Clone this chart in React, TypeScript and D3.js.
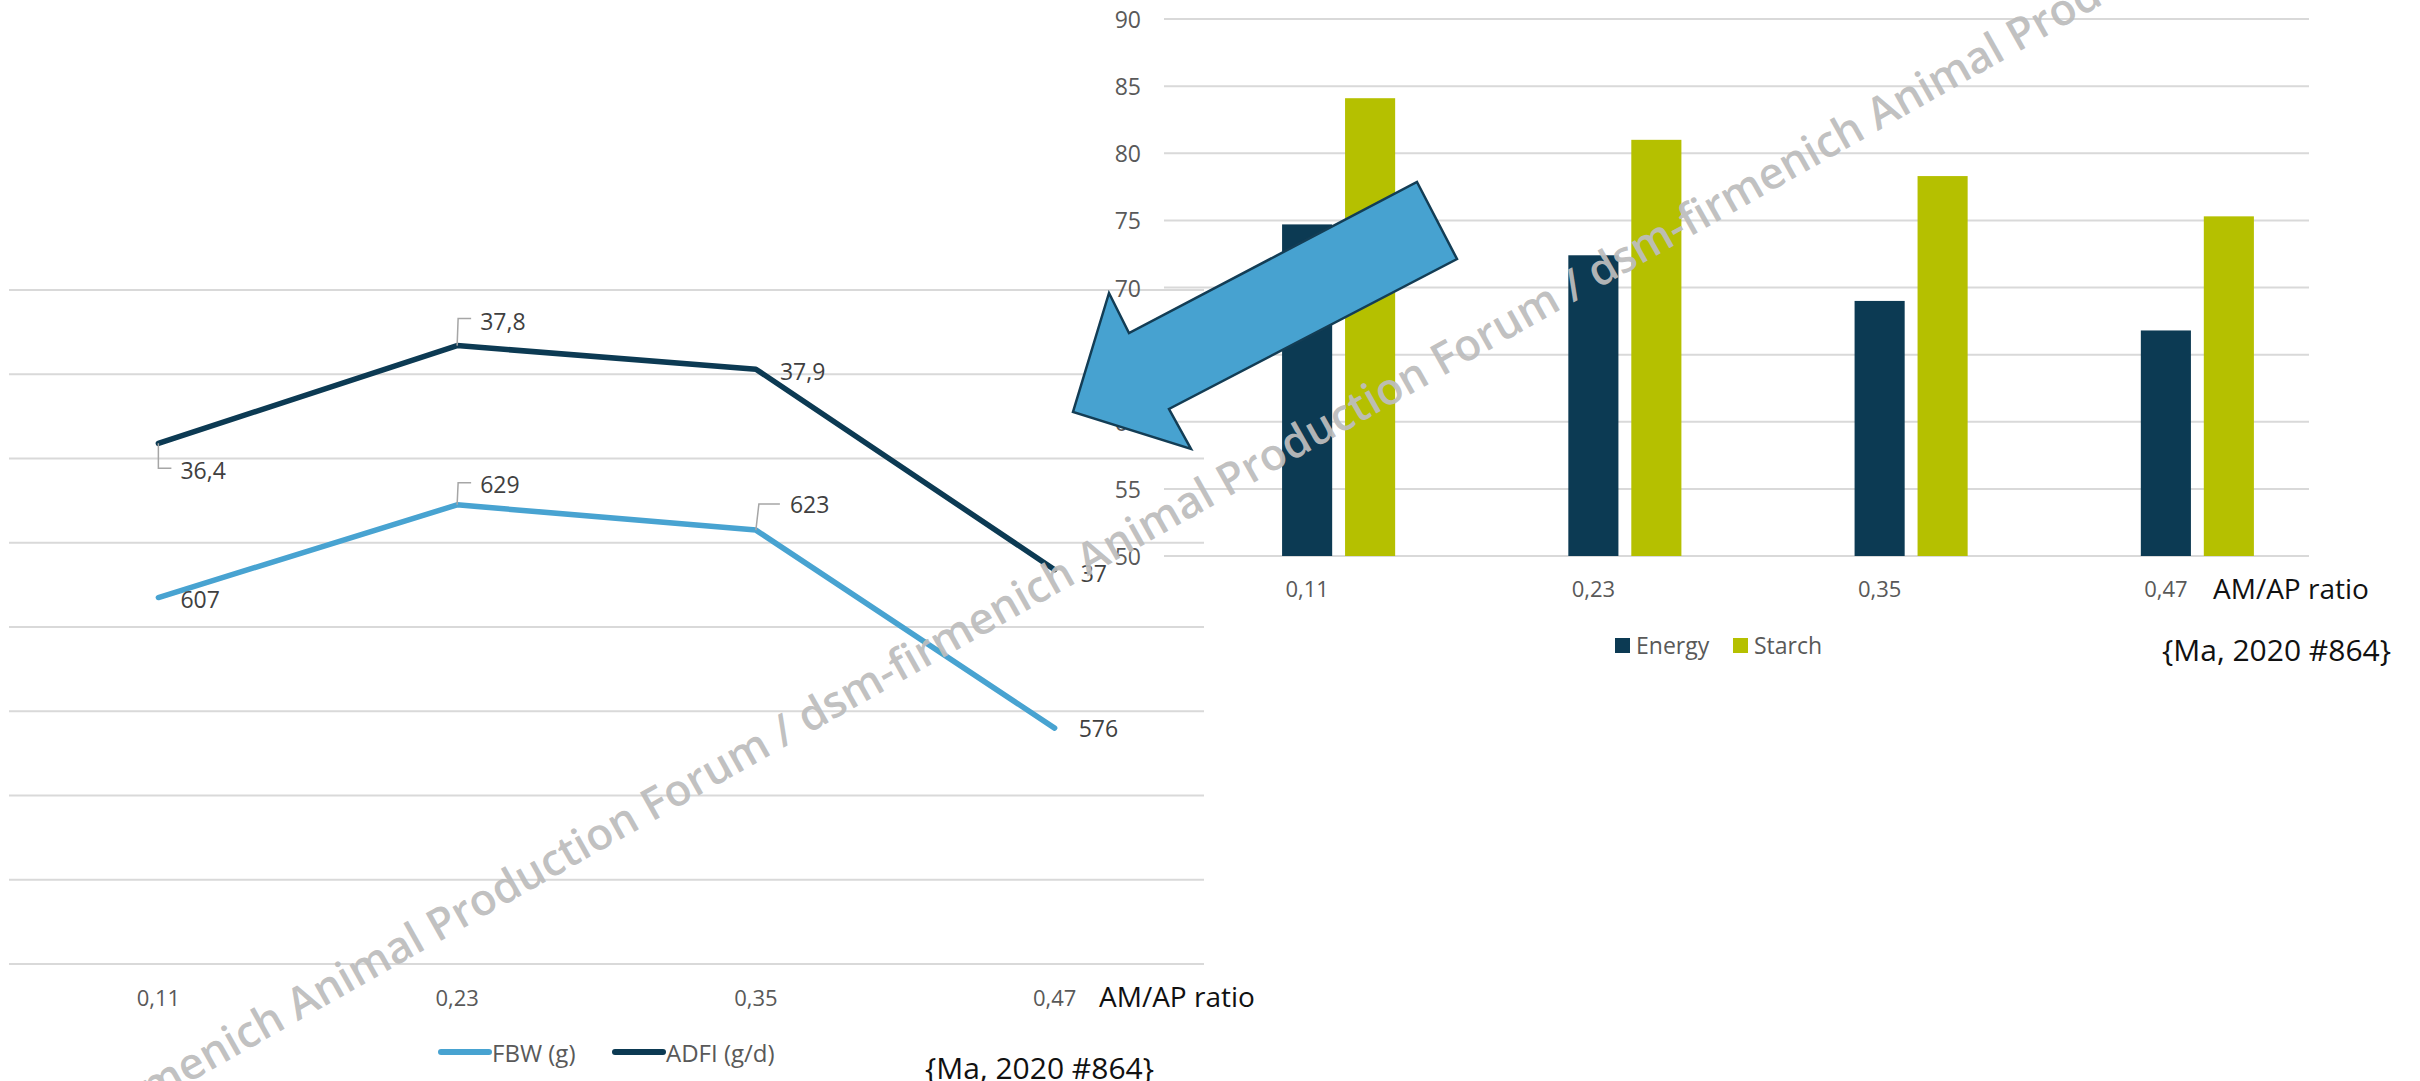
import React from "react";
import * as d3 from "d3";

// ---------- data ----------
const categories = ["0,11", "0,23", "0,35", "0,47"];
const fbwValues = [607, 629, 623, 576];
const fbwLabels = ["607", "629", "623", "576"];
const adfiValues = [37.09, 37.67, 37.53, 36.34];
const adfiLabels = ["36,4", "37,8", "37,9", "37"];
const fbwTicks = [520, 540, 560, 580, 600, 620, 640, 660, 680];
const energyValues = [74.7, 72.4, 69.0, 66.8];
const starchValues = [84.1, 81.0, 78.3, 75.3];
const barTicks = [50, 55, 60, 65, 70, 75, 80, 85, 90];
const axisTitle = "AM/AP ratio";
const citation = "{Ma, 2020 #864}";
const watermark =
  "dsm-firmenich Animal Production Forum / dsm-firmenich Animal Production Forum / dsm-firmenich Animal Production Forum / dsm-firmenich Animal Production Forum";

// ---------- styles ----------
const FONT = "'Open Sans', 'DejaVu Sans', sans-serif";
const GRID = "#D9D9D9";
const DARK = "#0C3A53";
const LIGHT = "#48A3D1";
const GREEN = "#B5C000";
const GREY_TXT = "#595959";
const LABEL_TXT = "#404040";

// label offsets (annotation layout, px relative to point)
const adfiLabelOffsets = [[22, 27], [23, -25], [24, 2], [26, 3]];
const adfiLeaders = [[[0, 0], [0, 25], [13, 25]], [[0, 0], [1, -27], [14, -27]], null, null];
const fbwLabelOffsets = [[22, 1], [23, -21], [34, -26], [24, 0]];
const fbwLeaders = [null, [[0, 0], [1, -22], [14, -22]], [[0, 0], [3, -26], [24, -26]], null];

// arrow annotation polygon
const arrowPts: [number, number][] = [
  [1417, 182], [1457, 259], [1169, 409], [1191, 449], [1073, 412], [1109, 293], [1129, 333],
];

export default function App() {
  // left chart scales
  const lx = d3.scalePoint<string>().domain(categories).range([9, 1204]).padding(0.5);
  const lyFbw = d3.scaleLinear().domain([520, 680]).range([964, 290]);
  const lyAdfi = d3.scaleLinear().domain([34, 38]).range([964, 290]);
  const lineGen = d3.line<[number, number]>().x((d) => d[0]).y((d) => d[1]);
  const fbwPts: [number, number][] = fbwValues.map((v, i) => [lx(categories[i])!, lyFbw(v)]);
  const adfiPts: [number, number][] = adfiValues.map((v, i) => [lx(categories[i])!, lyAdfi(v)]);

  // right chart scales
  const rx = d3.scaleBand<string>().domain(categories).range([1164, 2309]).paddingInner(0).paddingOuter(0);
  const ry = d3.scaleLinear().domain([50, 90]).range([556, 19]);
  const bw = rx.bandwidth() * 0.175;
  const gap = rx.bandwidth() * 0.045;

  return (
    <svg
      width={2420}
      height={1081}
      style={{ position: "absolute", left: 0, top: 0, display: "block", background: "#fff" }}
      fontFamily={FONT}
    >
      <rect x={0} y={0} width={2420} height={1081} fill="#fff" />

      {/* ---------- left chart ---------- */}
      {fbwTicks.map((t) => (
        <line key={"lg" + t} x1={9} x2={1204} y1={lyFbw(t)} y2={lyFbw(t)} stroke={GRID} strokeWidth={2} />
      ))}
      {categories.map((c) => (
        <text key={"lc" + c} x={lx(c)} y={997} textAnchor="middle" dominantBaseline="central" fontSize={22} fill={GREY_TXT}>
          {c}
        </text>
      ))}
      <text x={1099} y={996} dominantBaseline="central" fontSize={28} fill="#111">
        {axisTitle}
      </text>
      <path d={lineGen(adfiPts)!} fill="none" stroke={DARK} strokeWidth={5.5} strokeLinejoin="round" strokeLinecap="round" />
      <path d={lineGen(fbwPts)!} fill="none" stroke={LIGHT} strokeWidth={5.5} strokeLinejoin="round" strokeLinecap="round" />
      {adfiPts.map((p, i) => (
        <g key={"al" + i}>
          {adfiLeaders[i] && (
            <polyline
              points={adfiLeaders[i]!.map((q) => `${p[0] + q[0]},${p[1] + q[1]}`).join(" ")}
              fill="none"
              stroke="#A6A6A6"
              strokeWidth={1.5}
            />
          )}
          <text x={p[0] + adfiLabelOffsets[i][0]} y={p[1] + adfiLabelOffsets[i][1]} dominantBaseline="central" fontSize={23} fill={LABEL_TXT}>
            {adfiLabels[i]}
          </text>
        </g>
      ))}
      {fbwPts.map((p, i) => (
        <g key={"fl" + i}>
          {fbwLeaders[i] && (
            <polyline
              points={fbwLeaders[i]!.map((q) => `${p[0] + q[0]},${p[1] + q[1]}`).join(" ")}
              fill="none"
              stroke="#A6A6A6"
              strokeWidth={1.5}
            />
          )}
          <text x={p[0] + fbwLabelOffsets[i][0]} y={p[1] + fbwLabelOffsets[i][1]} dominantBaseline="central" fontSize={23} fill={LABEL_TXT}>
            {fbwLabels[i]}
          </text>
        </g>
      ))}
      {/* left legend */}
      <line x1={441} x2={489} y1={1052} y2={1052} stroke={LIGHT} strokeWidth={6} strokeLinecap="round" />
      <text x={492} y={1052} dominantBaseline="central" fontSize={24} fill={GREY_TXT}>FBW (g)</text>
      <line x1={615} x2={663} y1={1052} y2={1052} stroke={DARK} strokeWidth={6} strokeLinecap="round" />
      <text x={666} y={1052} dominantBaseline="central" fontSize={24} fill={GREY_TXT}>ADFI (g/d)</text>
      <text x={925} y={1067} dominantBaseline="central" fontSize={30} fill="#111">{citation}</text>

      {/* ---------- right chart ---------- */}
      {barTicks.map((t) => (
        <g key={"rg" + t}>
          <line x1={1164} x2={2309} y1={ry(t)} y2={ry(t)} stroke={GRID} strokeWidth={2} />
          <text x={1141} y={ry(t)} textAnchor="end" dominantBaseline="central" fontSize={23} fill={GREY_TXT}>
            {t}
          </text>
        </g>
      ))}
      {categories.map((c, i) => {
        const cx = rx(c)! + rx.bandwidth() / 2;
        return (
          <g key={"rb" + c}>
            <rect x={cx - bw / 2} y={ry(energyValues[i])} width={bw} height={ry(50) - ry(energyValues[i])} fill={DARK} />
            <rect x={cx + bw / 2 + gap} y={ry(starchValues[i])} width={bw} height={ry(50) - ry(starchValues[i])} fill={GREEN} />
            <text x={cx} y={588} textAnchor="middle" dominantBaseline="central" fontSize={22} fill={GREY_TXT}>
              {c}
            </text>
          </g>
        );
      })}
      <text x={2213} y={588} dominantBaseline="central" fontSize={28} fill="#111">
        {axisTitle}
      </text>
      {/* right legend */}
      <rect x={1615} y={638} width={15} height={15} fill={DARK} />
      <text x={1636} y={645} dominantBaseline="central" fontSize={23} fill={GREY_TXT}>Energy</text>
      <rect x={1733} y={638} width={15} height={15} fill={GREEN} />
      <text x={1754} y={645} dominantBaseline="central" fontSize={23} fill={GREY_TXT}>Starch</text>
      <text x={2162} y={649} dominantBaseline="central" fontSize={30} fill="#111">{citation}</text>

      {/* arrow annotation */}
      <polygon points={arrowPts.map((p) => p.join(",")).join(" ")} fill="#47A2D0" stroke="#133D55" strokeWidth={2.5} strokeLinejoin="miter" />

      {/* watermark */}
      <text
        transform="translate(18,1179) rotate(-29.4)"
        fontSize={44}
        fontWeight={600}
        fill="#BDBDBD"
        fillOpacity={0.95}
      >
        {watermark}
      </text>
    </svg>
  );
}
